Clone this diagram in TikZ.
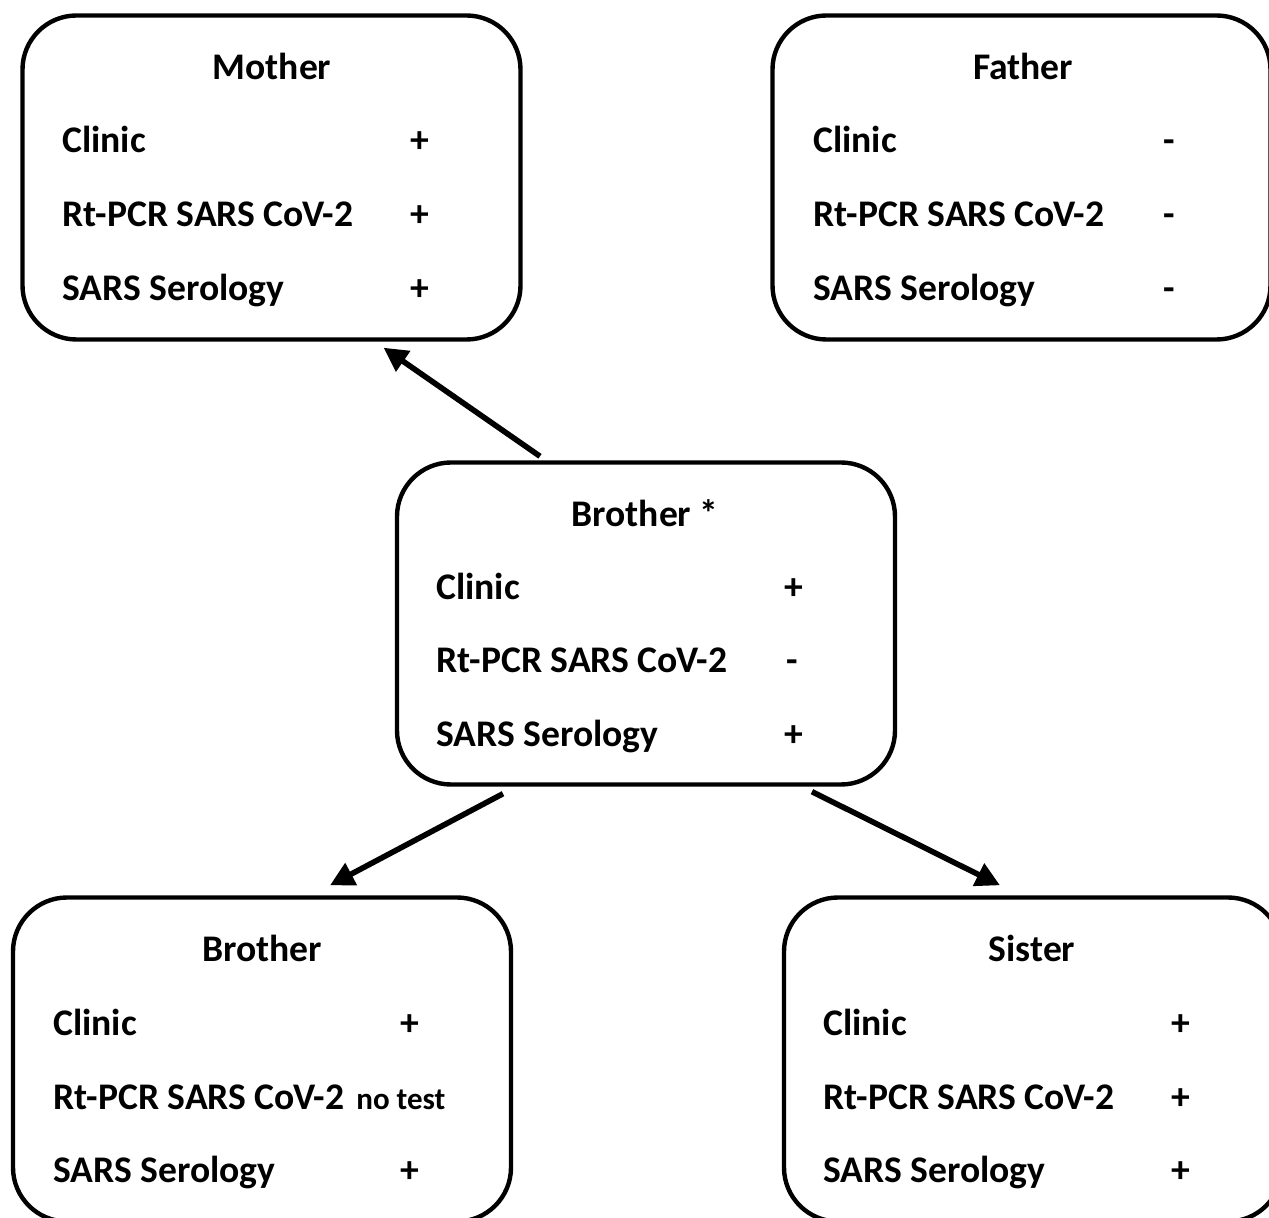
\documentclass[tikz,border=0pt]{standalone}
\usepackage{fontspec}
\setmainfont{Carlito}
\usetikzlibrary{arrows.meta,calc}
\begin{document}
\begin{tikzpicture}[x=0.5pt,y=-0.5pt,
  famBox/.style={draw=black,line width=2.2pt,rounded corners=27pt,minimum width=249pt,minimum height=162pt,inner sep=0pt},
  lbl/.style={anchor=base west,font=\fontsize{18.8}{20}\selectfont\bfseries,inner sep=0pt},
  ttl/.style={anchor=base,font=\fontsize{18.8}{20}\selectfont\bfseries,inner sep=0pt},
  sgn/.style={anchor=base,font=\fontsize{18.8}{20}\selectfont\bfseries,inner sep=0pt},
  small/.style={anchor=base west,font=\fontsize{15.5}{16}\selectfont\bfseries,inner sep=0pt},
  link/.style={line width=2.8pt,-{Triangle[length=12pt,width=12pt]}}]
\clip (0,0) rectangle (1269,1218);
\fill[white] (0,0) rectangle (1269,1218);
% boxes
\node[famBox] (mother) at (271.5,177.5) {};
\node[famBox] (father) at (1021.5,177.5) {};
\node[famBox,minimum height=161pt] (bstar) at (646,623.5) {};
\node[famBox] (brother) at (262,1059.5) {};
\node[famBox] (sister) at (1033,1059.5) {};
% Mother
\node[ttl] (mt) at (272,80) {Mother};
\node[lbl] (m1) at (62,153) {Clinic};
\node[lbl] (m2) at (62,227) {Rt-PCR SARS CoV-2};
\node[lbl] (m3) at (62,301) {SARS Serology};
\node[sgn] (ms1) at (420,153) {+};
\node[sgn] (ms2) at (420,227) {+};
\node[sgn] (ms3) at (420,301) {+};
% Father
\node[ttl] (ft) at (1023,80) {Father};
\node[lbl] (f1) at (813,153) {Clinic};
\node[lbl] (f2) at (813,227) {Rt-PCR SARS CoV-2};
\node[lbl] (f3) at (813,301) {SARS Serology};
\node[sgn] (fs1) at (1169,153) {-};
\node[sgn] (fs2) at (1169,227) {-};
\node[sgn] (fs3) at (1169,301) {-};
% Brother *
\node[ttl] (bt) at (645,527) {Brother *};
\node[lbl] (b1) at (436,600) {Clinic};
\node[lbl] (b2) at (436,673) {Rt-PCR SARS CoV-2};
\node[lbl] (b3) at (436,747) {SARS Serology};
\node[sgn] (bs1) at (794,600) {+};
\node[sgn] (bs2) at (792,673) {-};
\node[sgn] (bs3) at (794,747) {+};
% Brother
\node[ttl] (brt) at (262,961) {Brother};
\node[lbl] (br1) at (53,1035) {Clinic};
\node[lbl] (br2) at (53,1109) {Rt-PCR SARS CoV-2};
\node[lbl] (br3) at (53,1182) {SARS Serology};
\node[sgn] (brs1) at (410,1035) {+};
\node[small] (brs2) at (356,1109) {no test};
\node[sgn] (brs3) at (410,1182) {+};
% Sister
\node[ttl] (st) at (1032,961) {Sister};
\node[lbl] (s1) at (823,1035) {Clinic};
\node[lbl] (s2) at (823,1109) {Rt-PCR SARS CoV-2};
\node[lbl] (s3) at (823,1182) {SARS Serology};
\node[sgn] (ss1) at (1181,1035) {+};
\node[sgn] (ss2) at (1181,1109) {+};
\node[sgn] (ss3) at (1181,1182) {+};
% arrows
\draw[link] ($(bstar.north)+(-106,-4)$) -- ($(mother.south)+(112,6)$);
\draw[link] ($(bstar.south)+(-143,7)$) -- ($(brother.north)+(68,-10)$);
\draw[link] ($(bstar.south)+(166,5)$) -- ($(sister.north)+(-33,-10)$);
\end{tikzpicture}
\end{document}
